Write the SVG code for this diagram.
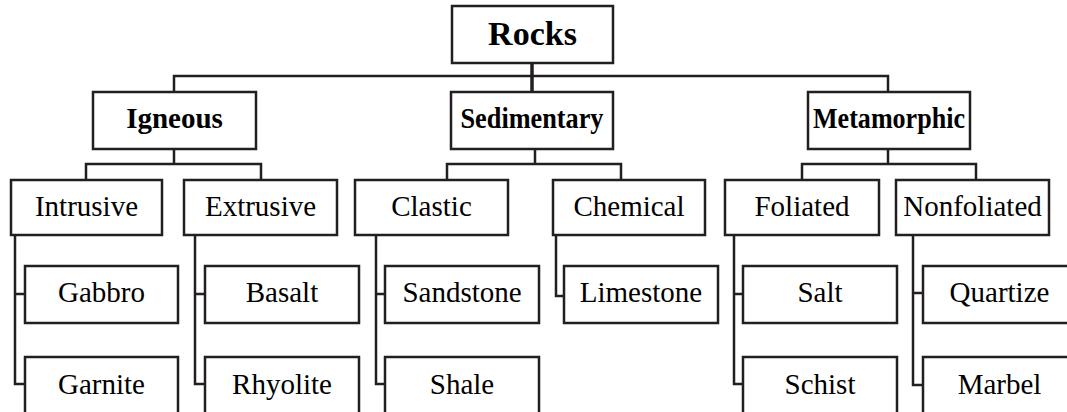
<svg xmlns="http://www.w3.org/2000/svg" width="1067" height="412" viewBox="0 0 1067 412">
<style>
.box{fill:#fff;stroke:#231f20;stroke-width:2.5}
.ln{fill:none;stroke:#231f20;stroke-width:2.5;stroke-linejoin:miter}
.t{font-family:'Liberation Serif','Times New Roman',Times,serif;font-size:29px;fill:#000;text-anchor:middle}
.b{font-weight:bold}
.big{font-size:34px}
</style>
<rect width="1067" height="412" fill="#fff"/>
<g id="connectors">
<path class="ln" d="M532 63V92" style="stroke-width:3.5"/>
<path class="ln" d="M174 92V76H888V92"/>
<path class="ln" d="M174 149V164M86 180V164H261V180"/>
<path class="ln" d="M535 149V164M447 180V164H621V180"/>
<path class="ln" d="M888 149V164M802 180V164H976V180"/>
<path class="ln" d="M15 235V384H25M15 294H25"/>
<path class="ln" d="M195 235V384H205M195 294H205"/>
<path class="ln" d="M376 235V384H385M376 294H385"/>
<path class="ln" d="M556 235V296H564"/>
<path class="ln" d="M734 235V384H743M734 294H743"/>
<path class="ln" d="M913 235V385H923M913 293H923"/>
</g>
<g id="rocks"><rect class="box" x="452" y="6" width="161" height="57"/><text class="t b big" x="532.5" y="45">Rocks</text></g>
<g id="igneous"><rect class="box" x="93" y="92" width="163" height="57"/><text class="t b" x="174.5" y="128">Igneous</text></g>
<g id="sedimentary"><rect class="box" x="451" y="92" width="162" height="57"/><text class="t b" x="532" y="128" textLength="143" lengthAdjust="spacingAndGlyphs">Sedimentary</text></g>
<g id="metamorphic"><rect class="box" x="808" y="92" width="162" height="57"/><text class="t b" x="889" y="128" textLength="152" lengthAdjust="spacingAndGlyphs">Metamorphic</text></g>
<g id="intrusive"><rect class="box" x="11" y="180" width="151" height="55"/><text class="t" x="86.5" y="216">Intrusive</text></g>
<g id="extrusive"><rect class="box" x="184" y="180" width="153" height="55"/><text class="t" x="260.5" y="216">Extrusive</text></g>
<g id="clastic"><rect class="box" x="355" y="180" width="153" height="55"/><text class="t" x="431.5" y="216">Clastic</text></g>
<g id="chemical"><rect class="box" x="553" y="180" width="152" height="55"/><text class="t" x="629" y="216">Chemical</text></g>
<g id="foliated"><rect class="box" x="725" y="180" width="154" height="55"/><text class="t" x="802" y="216">Foliated</text></g>
<g id="nonfoliated"><rect class="box" x="896" y="180" width="153" height="55"/><text class="t" x="972.5" y="216">Nonfoliated</text></g>
<g id="gabbro"><rect class="box" x="25" y="266" width="153" height="57"/><text class="t" x="101.5" y="302">Gabbro</text></g>
<g id="garnite"><rect class="box" x="25" y="357" width="153" height="57"/><text class="t" x="101.5" y="394">Garnite</text></g>
<g id="basalt"><rect class="box" x="205" y="266" width="154" height="57"/><text class="t" x="282" y="302">Basalt</text></g>
<g id="rhyolite"><rect class="box" x="205" y="357" width="154" height="57"/><text class="t" x="282" y="394">Rhyolite</text></g>
<g id="sandstone"><rect class="box" x="385" y="266" width="154" height="57"/><text class="t" x="462" y="302">Sandstone</text></g>
<g id="shale"><rect class="box" x="385" y="357" width="154" height="57"/><text class="t" x="462" y="394">Shale</text></g>
<g id="limestone"><rect class="box" x="564" y="266" width="154" height="57"/><text class="t" x="641" y="302">Limestone</text></g>
<g id="salt"><rect class="box" x="743" y="266" width="154" height="57"/><text class="t" x="820" y="302">Salt</text></g>
<g id="schist"><rect class="box" x="743" y="357" width="154" height="57"/><text class="t" x="820" y="394">Schist</text></g>
<g id="quartize"><rect class="box" x="923" y="266" width="153" height="57"/><text class="t" x="999.5" y="302">Quartize</text></g>
<g id="marbel"><rect class="box" x="923" y="357" width="153" height="57"/><text class="t" x="999.5" y="394">Marbel</text></g>
</svg>
